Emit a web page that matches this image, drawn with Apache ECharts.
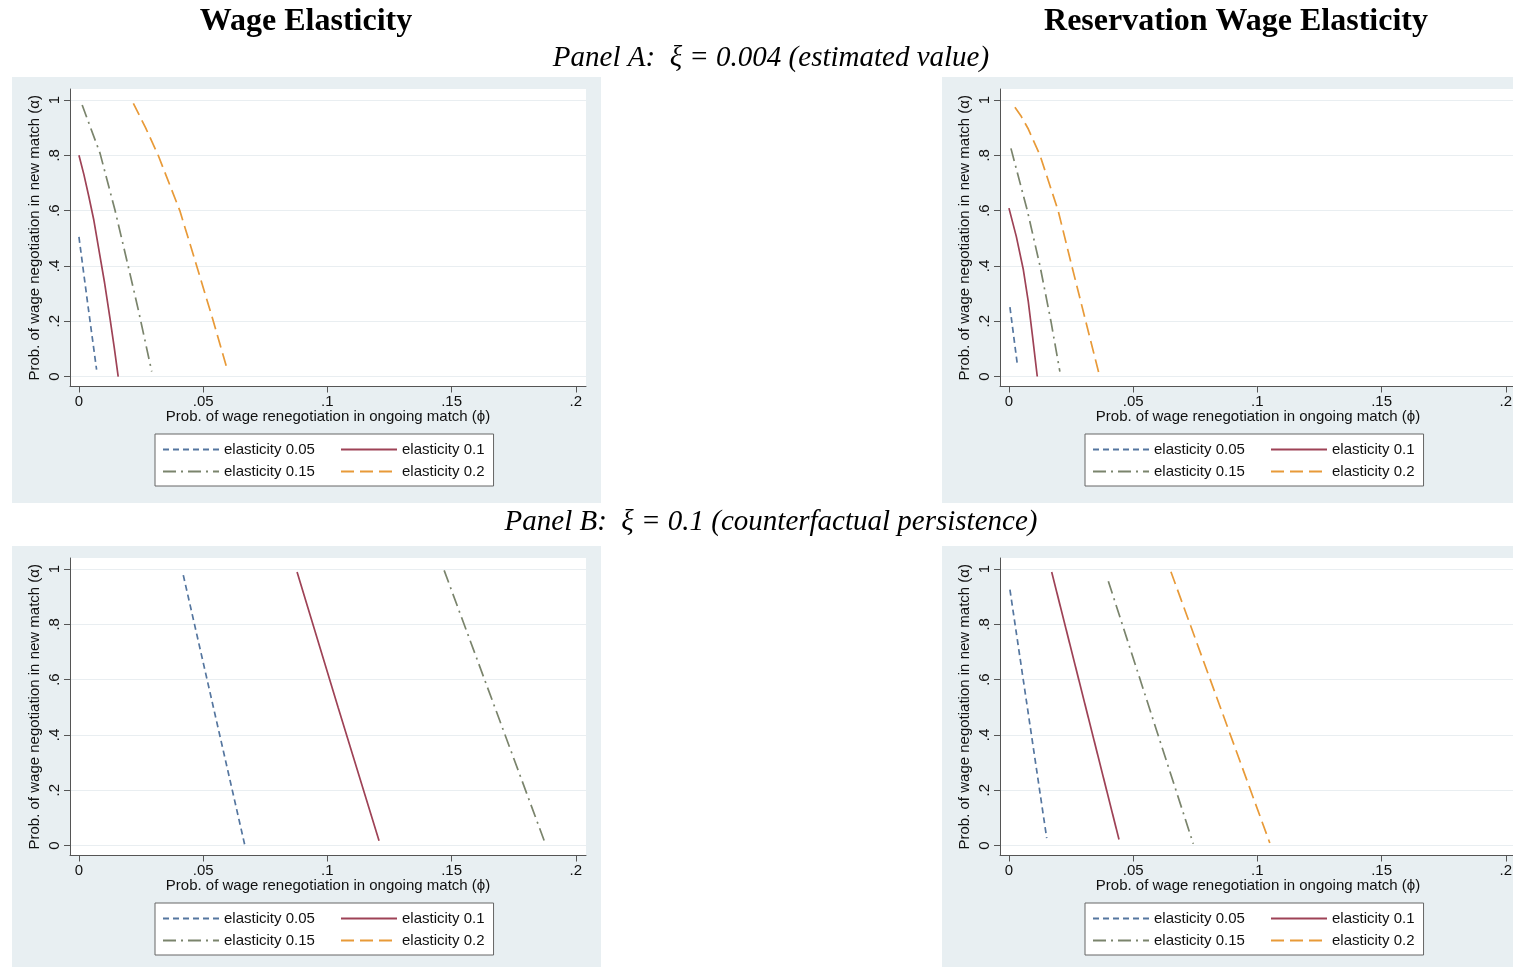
<!DOCTYPE html>
<html><head><meta charset="utf-8">
<script src="https://cdn.jsdelivr.net/npm/echarts@6/dist/echarts.min.js"></script>
<style>html,body{margin:0;padding:0;background:#fff;overflow:hidden}#c{width:1513px;height:967px}</style>
</head><body><div id="c"></div>
<script>
// ---- tick values / labels ----
const xTickValues = [0, 0.05, 0.1, 0.15, 0.2];
const xTickLabels = ['0', '.05', '.1', '.15', '.2'];
const yTickValues = [0, 0.2, 0.4, 0.6, 0.8, 1];
const yTickLabels = ['0', '.2', '.4', '.6', '.8', '1'];
const seriesNames = ['elasticity 0.05', 'elasticity 0.1', 'elasticity 0.15', 'elasticity 0.2'];

// ---- Panel A (xi = 0.004), Wage Elasticity ----
const aWage005 = [[0, 0.505], [0.0035, 0.265], [0.0071, 0.025]];
const aWage010 = [[0, 0.80], [0.002, 0.73], [0.004, 0.65], [0.006, 0.565], [0.008, 0.46], [0.0103, 0.34], [0.0125, 0.21], [0.0142, 0.105], [0.0158, 0.0]];
const aWage015 = [[0.0013, 0.982], [0.0085, 0.807], [0.0145, 0.602], [0.0198, 0.40], [0.0239, 0.241], [0.0293, 0.018]];
const aWage020 = [[0.0219, 0.988], [0.0268, 0.90], [0.0319, 0.80], [0.0406, 0.60], [0.0474, 0.40], [0.0536, 0.215], [0.0598, 0.022]];

// ---- Panel A, Reservation Wage Elasticity ----
const aRes005 = [[0.0004, 0.251], [0.0034, 0.042]];
const aRes010 = [[0, 0.609], [0.003, 0.505], [0.0058, 0.386], [0.0078, 0.27], [0.0095, 0.145], [0.0114, 0.0]];
const aRes015 = [[0.0008, 0.825], [0.0074, 0.60], [0.0125, 0.40], [0.0169, 0.20], [0.0205, 0.018]];
const aRes020 = [[0.0024, 0.974], [0.005, 0.94], [0.0078, 0.895], [0.0125, 0.80], [0.0198, 0.60], [0.0253, 0.40], [0.0309, 0.20], [0.0362, 0.012]];

// ---- Panel B (xi = 0.1), Wage Elasticity ----
const bWage005 = [[0.042, 0.978], [0.0668, 0.0]];
const bWage010 = [[0.0878, 0.989], [0.1043, 0.50], [0.1208, 0.017]];
const bWage015 = [[0.147, 0.995], [0.1873, 0.017]];
const bWage020 = [];

// ---- Panel B, Reservation Wage Elasticity ----
const bRes005 = [[0.0004, 0.925], [0.0152, 0.027]];
const bRes010 = [[0.0172, 0.989], [0.0443, 0.022]];
const bRes015 = [[0.040, 0.956], [0.0742, 0.006]];
const bRes020 = [[0.0652, 0.99], [0.105, 0.009]];

const panelData = [
  [aWage005, aWage010, aWage015, aWage020],
  [aRes005, aRes010, aRes015, aRes020],
  [bWage005, bWage010, bWage015, bWage020],
  [bRes005, bRes010, bRes015, bRes020]
];

// ---- styles ----
const lineColors = ['#55769f', '#9e4256', '#7a846c', '#e89a38'];
const lineDashes = [[6, 4], 'solid', [13, 5, 2, 5], [13, 6]];
const SANS = '"Liberation Sans", Arial, sans-serif';
const SERIF = '"Liberation Serif", "Times New Roman", serif';
const panelBg = '#e8eff2';

// panel offsets (x, y)
const offsets = [[0, 0], [930, 0], [0, 469], [930, 469]];

const grids = [], xAxes = [], yAxes = [], series = [], legends = [], graphics = [];

offsets.forEach(([ox, oy], i) => {
  graphics.push({
    type: 'rect', z: -100,
    shape: { x: 12 + ox, y: 77 + oy, width: 589, height: 426 },
    style: { fill: panelBg }
  });
  grids.push({
    left: 70 + ox, top: 89 + oy, width: 516, height: 297.5,
    show: true, backgroundColor: '#ffffff', borderWidth: 0,
    outerBoundsMode: 'none', containLabel: false
  });
  xAxes.push({
    type: 'value', gridIndex: i, min: -0.0036, max: 0.2041,
    axisLine: { show: true, onZero: false, lineStyle: { color: '#555', width: 1 } },
    axisTick: { show: true, length: 6, customValues: xTickValues, lineStyle: { color: '#555', width: 1 } },
    axisLabel: {
      customValues: xTickValues, margin: 8, color: '#111', fontSize: 15, fontFamily: SANS,
      formatter: v => xTickLabels[xTickValues.findIndex(t => Math.abs(t - v) < 1e-9)] ?? ''
    },
    splitLine: { show: false },
    name: 'Prob. of wage renegotiation in ongoing match (\u03D5)',
    nameLocation: 'middle', nameGap: 23, nameMoveOverlap: false,
    nameTextStyle: { color: '#111', fontSize: 15, fontFamily: SANS }
  });
  yAxes.push({
    type: 'value', gridIndex: i, min: -0.0361, max: 1.0398,
    axisLine: { show: true, onZero: false, lineStyle: { color: '#555', width: 1 } },
    axisTick: { show: true, length: 6, customValues: yTickValues, lineStyle: { color: '#555', width: 1 } },
    axisLabel: {
      customValues: yTickValues, rotate: 90, margin: 8, color: '#111', fontSize: 15, fontFamily: SANS,
      formatter: v => yTickLabels[yTickValues.findIndex(t => Math.abs(t - v) < 1e-9)] ?? ''
    },
    splitLine: { show: true, lineStyle: { color: '#e9eef1', width: 1 } },
    name: 'Prob. of wage negotiation in new match (\u03B1)',
    nameLocation: 'middle', nameRotate: 90, nameGap: 28, nameMoveOverlap: false,
    nameTextStyle: { color: '#111', fontSize: 15, fontFamily: SANS }
  });
  panelData[i].forEach((d, k) => {
    series.push({
      type: 'line', name: seriesNames[k], xAxisIndex: i, yAxisIndex: i,
      data: d, symbol: 'none', showSymbol: false, smooth: false, silent: true,
      itemStyle: { opacity: 0, color: lineColors[k] },
      lineStyle: { color: lineColors[k], width: 1.7, type: lineDashes[k] },
      emphasis: { disabled: true }, animation: false
    });
  });
  legends.push({
    left: 155 + ox, top: 434 + oy, orient: 'vertical', height: 40,
    padding: [8, 9, 7, 7], itemGap: 7, itemWidth: 56, itemHeight: 14, itemTextGap: 9,
    backgroundColor: '#ffffff', borderColor: '#666', borderWidth: 1, borderRadius: 0,
    selectedMode: false, itemStyle: { opacity: 0 },
    textStyle: { color: '#111', fontSize: 15, fontFamily: SANS, lineHeight: 14 },
    data: [
      { name: seriesNames[0], textStyle: { width: 109 } },
      { name: seriesNames[2], textStyle: { width: 109 } },
      { name: seriesNames[1] },
      { name: seriesNames[3] }
    ]
  });
});

// titles
graphics.push(
  { type: 'text', x: 306, y: 22, style: { text: 'Wage Elasticity', font: 'bold 32px ' + SERIF, fill: '#000', textAlign: 'center', textVerticalAlign: 'middle' } },
  { type: 'text', x: 1236, y: 22, style: { text: 'Reservation Wage Elasticity', font: 'bold 32px ' + SERIF, fill: '#000', textAlign: 'center', textVerticalAlign: 'middle' } },
  { type: 'text', x: 771, y: 58, style: { text: 'Panel A:  \u03BE = 0.004 (estimated value)', font: 'italic 29px ' + SERIF, fill: '#000', textAlign: 'center', textVerticalAlign: 'middle' } },
  { type: 'text', x: 771, y: 522, style: { text: 'Panel B:  \u03BE = 0.1 (counterfactual persistence)', font: 'italic 29px ' + SERIF, fill: '#000', textAlign: 'center', textVerticalAlign: 'middle' } }
);

const chart = echarts.init(document.getElementById('c'), null, { renderer: 'canvas' });
chart.setOption({
  animation: false,
  backgroundColor: '#ffffff',
  grid: grids, xAxis: xAxes, yAxis: yAxes, series: series, legend: legends,
  graphic: { elements: graphics }
});
</script></body></html>
